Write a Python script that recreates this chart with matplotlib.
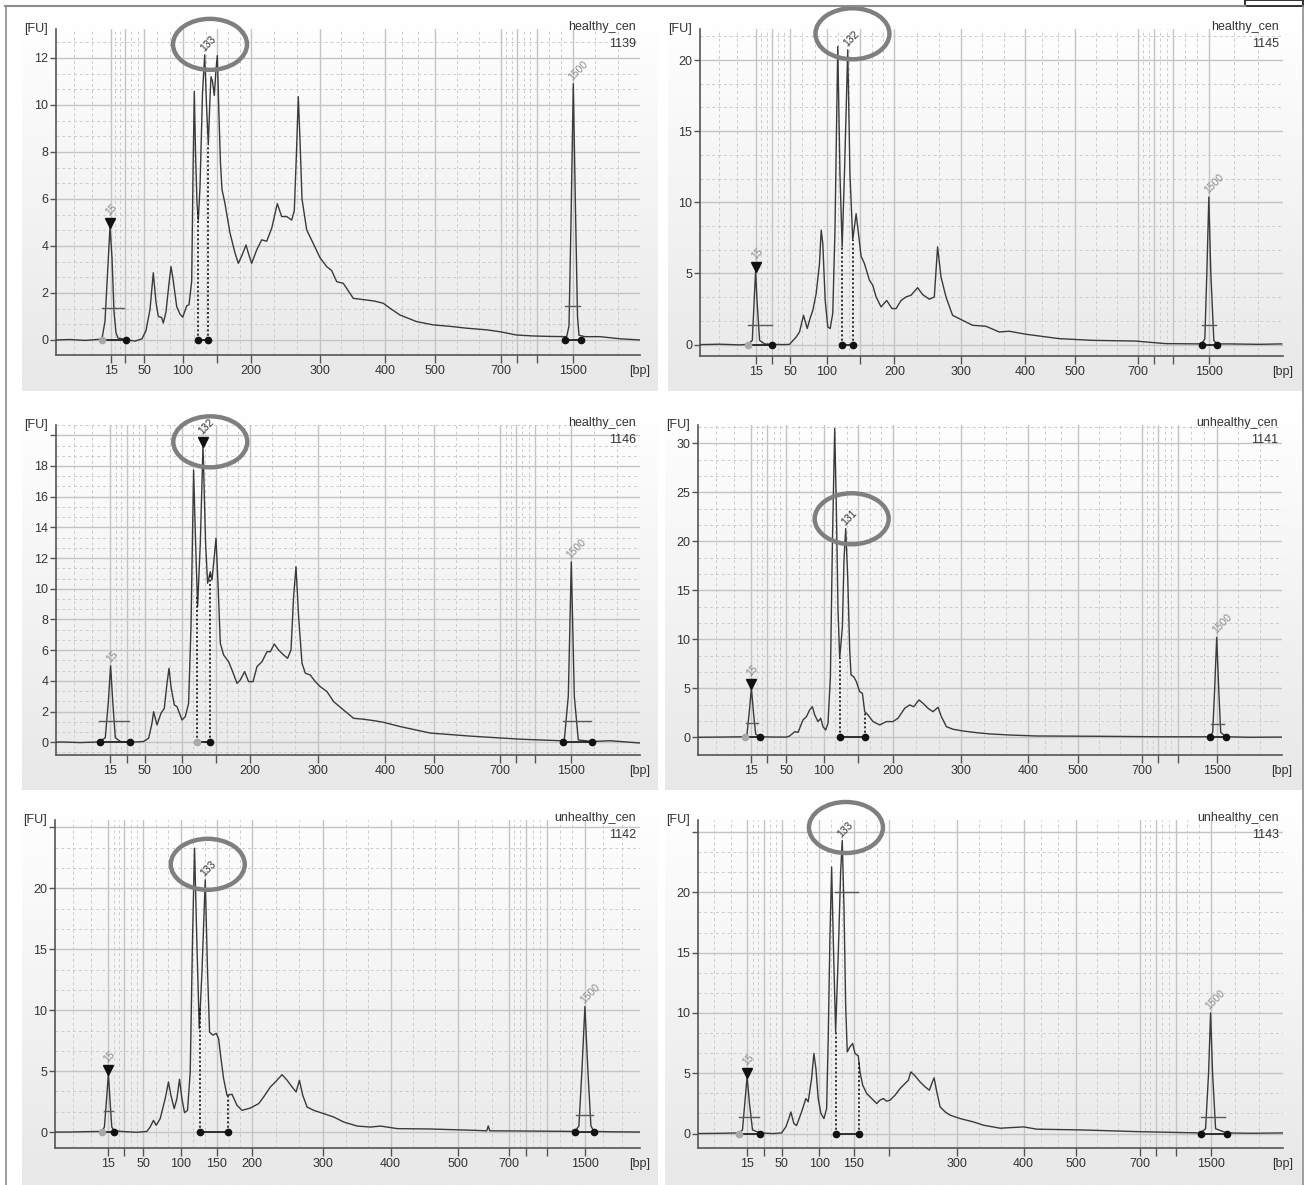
import matplotlib
matplotlib.use("Agg")
import matplotlib.pyplot as plt
import numpy as np
from matplotlib.colors import LinearSegmentedColormap
from matplotlib.lines import Line2D
from matplotlib.patches import Ellipse, Rectangle
from matplotlib.transforms import ScaledTranslation

W, H = 1309, 1185
TRACE_COLOR = "#3a3a3a"
TEXT_COLOR = "#333333"
LADDER_LABEL_COLOR = "#8c8c8c"
RING_COLOR = "#7f7f7f"

# ---------------------------------------------------------------- data
LADDER_BP = [15, 25, 50, 100, 150, 200, 300, 400, 500, 700, 850, 1000, 1500]
SAMPLE_NAMES = ["healthy_cen", "healthy_cen", "healthy_cen",
                "unhealthy_cen", "unhealthy_cen", "unhealthy_cen"]
SAMPLE_IDS = ["1139", "1145", "1146", "1141", "1142", "1143"]

# migration time [s] of each ladder fragment, per sample
LADDER_1139 = [45.47, 46.9, 48.8, 52.7, 56.1, 59.5, 66.35, 72.9, 77.9, 84.5, 86.1, 88.1, 91.7]
LADDER_1145 = [45.57, 47.24, 49.04, 52.7, 56.07, 59.47, 66.14, 72.57, 77.54, 83.87, 85.47, 87.37, 90.97]
LADDER_1146 = [45.43, 47.1, 48.86, 52.6, 56.0, 59.36, 66.2, 72.93, 77.83, 84.43, 86.0, 87.9, 91.53]
LADDER_1141 = [45.34, 46.94, 48.84, 52.57, 56.0, 59.5, 66.34, 73.0, 77.97, 84.37, 86.0, 88.0, 91.87]
LADDER_1142 = [45.33, 46.93, 48.83, 52.57, 56.17, 59.67, 66.77, 73.5, 80.2, 85.3, 87.0, 89.1, 92.9]
LADDER_1143 = [44.9, 46.57, 48.34, 52.1, 55.57, 59.07, 65.84, 72.5, 77.7, 84.1, 85.7, 87.7, 91.17]

# electropherogram traces: time [s] and fluorescence [FU]
TIME_1139 = [40.0, 41.4, 42.9, 44.4, 44.6, 44.9, 45.2, 45.4, 45.6, 45.8,
             46.0, 46.2, 46.9, 47.9, 48.6, 49.0, 49.4, 49.73, 50.0, 50.23,
             50.57, 50.73, 51.0, 51.3, 51.5, 51.7, 52.07, 52.4, 52.67, 53.07,
             53.3, 53.57, 53.7, 53.83, 53.95, 54.1, 54.23, 54.4, 54.65, 54.87,
             55.05, 55.23, 55.4, 55.5, 55.65, 55.83, 56.0, 56.13, 56.3, 56.45,
             56.6, 56.9, 57.4, 57.9, 58.23, 58.6, 59.0, 59.3, 59.57, 60.07,
             60.57, 61.07, 61.57, 62.13, 62.57, 63.07, 63.57, 63.83, 64.05, 64.23,
             64.4, 64.6, 65.07, 65.73, 66.4, 67.07, 67.57, 68.07, 68.73, 69.73,
             71.07, 71.9, 72.73, 73.4, 74.4, 76.07, 77.73, 79.4, 81.07, 83.07,
             84.4, 86.07, 87.73, 89.4, 91.07, 91.3, 91.5, 91.73, 91.95, 92.15,
             92.3, 92.9, 94.4, 96.4, 98.4]
FU_1139 = [0.0, 0.02, -0.02, 0.03, 0.05, 0.8, 3.2, 4.82, 3.5, 1.2,
           0.3, 0.08, 0.03, -0.05, 0.05, 0.4, 1.3, 2.86, 1.6, 1.0,
           0.95, 0.72, 1.2, 2.4, 3.12, 2.6, 1.42, 1.1, 0.97, 1.45,
           1.5, 2.5, 7.0, 10.57, 8.0, 5.8, 5.1, 6.5, 10.5, 12.13,
           10.0, 8.3, 10.3, 11.2, 11.0, 10.4, 11.5, 12.1, 9.5, 7.5,
           6.4, 5.8, 4.55, 3.7, 3.26, 3.6, 4.04, 3.6, 3.26, 3.83,
           4.26, 4.2, 4.75, 5.8, 5.25, 5.25, 5.1, 5.5, 8.0, 10.35,
           8.5, 6.0, 4.68, 4.1, 3.5, 3.12, 2.95, 2.48, 2.41, 1.77,
           1.7, 1.65, 1.56, 1.35, 1.06, 0.78, 0.64, 0.58, 0.5, 0.43,
           0.35, 0.21, 0.17, 0.15, 0.14, 0.6, 5.0, 10.9, 5.5, 1.0,
           0.2, 0.14, 0.14, 0.05, 0.0]

TIME_1145 = [40.0, 41.97, 43.97, 44.8, 45.24, 45.42, 45.57, 45.72, 45.97, 46.47,
             47.24, 48.47, 48.97, 49.64, 49.97, 50.37, 50.74, 51.07, 51.3, 51.64,
             51.97, 52.14, 52.3, 52.54, 52.8, 53.04, 53.3, 53.52, 53.8, 54.02,
             54.24, 54.47, 54.8, 55.02, 55.3, 55.64, 56.14, 56.47, 56.97, 57.3,
             57.64, 58.14, 58.7, 59.24, 59.64, 60.14, 60.64, 61.14, 61.8, 62.3,
             62.97, 63.47, 63.8, 64.14, 64.64, 65.3, 66.3, 67.3, 68.64, 69.97,
             70.97, 72.64, 75.97, 79.3, 83.64, 86.64, 90.24, 90.57, 90.77, 90.97,
             91.17, 91.47, 91.74, 92.97, 95.97, 98.27]
FU_1145 = [0.0, 0.03, -0.02, 0.02, 0.3, 3.0, 5.18, 3.0, 0.3, 0.05,
           0.02, 0.0, 0.02, 0.54, 0.89, 2.06, 1.13, 1.94, 2.4, 3.6,
           5.7, 8.05, 7.1, 3.1, 1.24, 1.13, 2.2, 8.0, 20.96, 12.0,
           6.87, 12.0, 20.72, 12.0, 7.35, 9.2, 6.2, 5.7, 4.53, 4.18,
           3.35, 2.65, 3.1, 2.53, 2.53, 3.1, 3.35, 3.47, 4.0, 3.52,
           3.19, 3.35, 6.87, 4.76, 3.35, 2.06, 1.71, 1.36, 1.29, 0.89,
           0.94, 0.73, 0.42, 0.3, 0.25, 0.07, 0.05, 0.4, 5.0, 10.37,
           5.0, 0.3, 0.05, 0.05, 0.02, 0.05]

TIME_1146 = [40.0, 40.43, 42.43, 44.36, 44.93, 45.23, 45.46, 45.68, 45.93, 46.43,
             47.36, 48.76, 49.26, 49.6, 49.76, 50.1, 50.5, 50.83, 51.1, 51.3,
             51.5, 51.83, 52.1, 52.6, 52.93, 53.26, 53.5, 53.76, 53.96, 54.16,
             54.43, 54.7, 54.96, 55.16, 55.43, 55.6, 55.86, 56.0, 56.2, 56.43,
             56.76, 57.26, 57.6, 58.1, 58.43, 58.86, 59.26, 59.7, 60.1, 60.6,
             61.1, 61.43, 61.83, 62.26, 62.76, 63.16, 63.5, 63.76, 64.0, 64.26,
             64.6, 64.93, 65.43, 65.93, 66.43, 67.1, 67.76, 68.76, 69.76, 70.76,
             71.76, 72.76, 74.43, 77.43, 81.43, 86.43, 90.43, 90.83, 91.23, 91.53,
             91.83, 92.23, 93.63, 95.43, 98.43]
FU_1146 = [0.0, 0.02, -0.02, 0.02, 0.3, 2.6, 4.99, 2.6, 0.3, 0.05,
           0.0, 0.05, 0.26, 1.24, 1.99, 1.13, 1.89, 2.21, 3.84, 4.82,
           3.62, 2.43, 2.32, 1.45, 1.67, 2.54, 7.53, 17.74, 12.96, 8.83,
           12.96, 19.3, 12.96, 10.36, 11.11, 10.57, 12.31, 13.29, 10.36, 6.45,
           5.69, 5.25, 4.71, 3.84, 4.06, 4.6, 3.95, 3.95, 4.93, 5.25,
           5.9, 5.9, 6.4, 6.01, 5.69, 5.47, 6.01, 9.49, 11.44, 8.18,
           5.15, 4.5, 4.38, 3.95, 3.62, 3.3, 2.65, 2.1, 1.56, 1.5,
           1.41, 1.3, 1.02, 0.6, 0.4, 0.2, 0.1, 0.15, 3.0, 11.75,
           3.0, 0.15, 0.05, 0.1, -0.05]

TIME_1141 = [40.0, 42.17, 44.67, 44.9, 45.12, 45.34, 45.55, 45.77, 46.24, 47.67,
             48.84, 49.17, 49.67, 50.0, 50.5, 50.84, 51.17, 51.44, 51.67, 52.0,
             52.27, 52.5, 52.77, 53.0, 53.24, 53.44, 53.67, 53.84, 54.0, 54.17,
             54.44, 54.6, 54.77, 54.97, 55.17, 55.3, 55.57, 55.84, 56.17, 56.44,
             56.67, 57.0, 57.5, 58.17, 58.84, 59.5, 60.0, 60.67, 61.17, 61.57,
             62.1, 62.5, 63.0, 63.5, 64.0, 64.34, 64.84, 65.5, 66.5, 67.84,
             69.17, 71.17, 73.84, 80.17, 86.17, 91.17, 91.47, 91.67, 91.87, 92.07,
             92.27, 92.77, 95.17, 98.37]
FU_1141 = [0.0, 0.02, 0.05, 0.3, 2.5, 5.0, 2.5, 0.3, 0.05, 0.02,
           0.02, 0.13, 0.57, 0.5, 1.77, 2.1, 2.79, 3.12, 2.28, 1.6,
           1.94, 1.08, 0.74, 1.43, 6.18, 19.8, 31.5, 23.2, 13.0, 8.06,
           11.29, 18.1, 21.3, 16.4, 8.9, 6.36, 6.18, 5.67, 4.65, 4.49,
           2.61, 2.28, 1.6, 1.26, 1.6, 1.6, 1.94, 2.96, 3.3, 3.12,
           3.81, 3.47, 2.96, 2.61, 3.06, 2.1, 1.08, 0.82, 0.64, 0.47,
           0.34, 0.23, 0.13, 0.1, 0.05, 0.05, 0.5, 5.0, 10.2, 5.0,
           0.5, 0.05, 0.0, 0.02]

TIME_1142 = [40.0, 41.33, 43.0, 44.67, 44.93, 45.13, 45.33, 45.5, 45.67, 45.93,
             46.83, 48.17, 49.17, 49.5, 49.83, 50.1, 50.5, 51.0, 51.33, 51.57,
             51.9, 52.17, 52.43, 52.67, 52.93, 53.23, 53.5, 53.73, 53.93, 54.17,
             54.4, 54.67, 55.0, 55.23, 55.43, 55.77, 56.1, 56.33, 56.57, 56.83,
             57.17, 57.67, 58.17, 58.67, 59.5, 60.33, 60.83, 61.5, 62.0, 62.67,
             63.17, 63.67, 64.07, 64.4, 64.73, 65.17, 65.83, 66.83, 67.83, 68.83,
             70.17, 71.5, 72.5, 74.17, 77.5, 81.5, 83.1, 83.25, 83.4, 87.5,
             91.9, 92.3, 92.6, 92.9, 93.2, 93.5, 93.8, 95.5, 98.5]
FU_1142 = [0.0, 0.0, 0.03, 0.05, 0.4, 2.5, 4.8, 2.5, 0.4, 0.1,
           0.04, -0.02, 0.05, 0.41, 0.96, 0.55, 1.1, 2.74, 4.11, 3.02,
           1.92, 2.74, 4.33, 2.74, 1.59, 1.78, 4.93, 15.9, 23.3, 15.3,
           8.5, 13.1, 20.7, 13.1, 8.2, 7.95, 8.1, 7.67, 6.03, 4.39,
           3.02, 3.1, 2.19, 1.78, 1.97, 2.33, 2.88, 3.7, 4.11, 4.71,
           4.25, 3.7, 3.29, 4.25, 3.02, 2.05, 1.78, 1.51, 1.23, 0.82,
           0.49, 0.41, 0.49, 0.28, 0.25, 0.15, 0.1, 0.5, 0.1, 0.08,
           0.05, 0.5, 5.0, 10.3, 5.0, 0.5, 0.05, 0.02, 0.0]

TIME_1143 = [40.0, 42.17, 44.1, 44.44, 44.67, 44.9, 45.14, 45.44, 46.17, 47.5,
             48.34, 48.77, 49.07, 49.27, 49.57, 49.84, 50.34, 50.77, 51.0, 51.34,
             51.57, 51.77, 52.0, 52.27, 52.57, 52.84, 53.0, 53.17, 53.34, 53.5,
             53.74, 54.0, 54.24, 54.4, 54.57, 54.74, 54.9, 55.17, 55.44, 55.67,
             56.0, 56.17, 56.44, 56.84, 57.34, 57.84, 58.17, 58.5, 58.84, 59.17,
             59.67, 60.17, 60.67, 61.0, 61.24, 61.67, 62.17, 62.67, 63.1, 63.34,
             63.57, 63.84, 64.17, 64.67, 65.17, 66.17, 67.5, 68.5, 70.17, 72.5,
             73.84, 78.17, 84.17, 90.17, 90.67, 90.97, 91.17, 91.37, 91.67, 92.77,
             95.17, 98.47]
FU_1143 = [0.0, 0.02, 0.05, 0.3, 2.5, 4.7, 2.5, 0.3, 0.05, 0.0,
           0.05, 0.55, 1.24, 1.79, 0.83, 0.66, 1.79, 2.9, 2.63, 4.56,
           6.64, 5.39, 2.9, 1.66, 1.24, 2.07, 7.88, 16.2, 22.1, 16.2,
           8.43, 14.8, 21.7, 24.3, 18.9, 10.65, 6.77, 7.19, 7.47, 6.64,
           6.44, 5.11, 4.01, 3.32, 2.9, 2.49, 2.77, 2.9, 2.68, 2.77,
           3.18, 3.73, 4.15, 4.42, 5.11, 4.78, 4.28, 3.87, 3.59, 4.15,
           4.62, 3.45, 2.21, 1.8, 1.52, 1.24, 0.96, 0.69, 0.44, 0.55,
           0.36, 0.3, 0.15, 0.05, 0.4, 5.0, 10.0, 5.0, 0.4, 0.05,
           0.02, 0.05]

# labelled peaks: (label, time, FU at apex)
PEAKS_1139 = [("15", 45.4, 4.82), ("133", 54.87, 12.13), ("1500", 91.73, 10.9)]
PEAKS_1145 = [("15", 45.57, 5.18), ("132", 54.8, 20.72), ("1500", 90.97, 10.37)]
PEAKS_1146 = [("15", 45.46, 4.99), ("132", 54.7, 19.3), ("1500", 91.53, 11.75)]
PEAKS_1141 = [("15", 45.34, 5.0), ("131", 54.77, 21.3), ("1500", 91.87, 10.2)]
PEAKS_1142 = [("15", 45.33, 4.8), ("133", 55.0, 20.7), ("1500", 92.9, 10.3)]
PEAKS_1143 = [("15", 44.9, 4.7), ("133", 54.4, 24.3), ("1500", 91.17, 10.0)]
SELECTED_PEAK = [0, 0, 1, 0, 0, 0]

# integration windows (start, end) of lower marker, upper marker and region
LOWER_WINDOW = [(44.63, 46.97), (44.8, 47.24), (44.36, 47.36), (44.67, 46.24), (44.67, 45.93), (44.1, 46.17)]
UPPER_WINDOW = [(90.93, 92.47), (90.24, 91.74), (90.73, 93.63), (91.17, 92.77), (91.9, 93.8), (90.17, 92.77)]
REGION_WINDOW = [(54.17, 55.23), (54.24, 55.3), (54.13, 55.36), (54.17, 56.67), (54.5, 57.23), (53.74, 56.07)]
# peak width bars (start, end, FU)
LOWER_BAR = [(44.57, 46.83, 1.35), (44.8, 47.2, 1.36), (44.26, 47.33, 1.39), (44.77, 46.0, 1.43), (44.93, 45.83, 1.7), (44.1, 46.07, 1.35)]
UPPER_BAR = [(90.9, 92.4, 1.45), (90.24, 91.7, 1.36), (90.73, 93.53, 1.4), (91.27, 92.57, 1.4), (92.0, 93.7, 1.4), (90.17, 92.57, 1.35)]
EXTRA_BAR = [None, None, None, None, None, (53.67, 55.94, 20.0)]

XLABELS = [
    [15, 50, 100, 200, 300, 400, 500, 700, 1500],
    [15, 50, 100, 200, 300, 400, 500, 700, 1500],
    [15, 50, 100, 200, 300, 400, 500, 700, 1500],
    [15, 50, 100, 200, 300, 400, 500, 700, 1500],
    [15, 50, 100, 150, 200, 300, 400, 500, 700, 1500],
    [15, 50, 100, 150, 300, 400, 500, 700, 1500],
]

TIMES = [TIME_1139, TIME_1145, TIME_1146, TIME_1141, TIME_1142, TIME_1143]
FUS = [FU_1139, FU_1145, FU_1146, FU_1141, FU_1142, FU_1143]
LADDERS = [LADDER_1139, LADDER_1145, LADDER_1146, LADDER_1141, LADDER_1142, LADDER_1143]
PEAKS = [PEAKS_1139, PEAKS_1145, PEAKS_1146, PEAKS_1141, PEAKS_1142, PEAKS_1143]

# ---------------------------------------------------------------- layout
AX_BOX = [(56, 29, 640, 355), (700, 29, 1283, 356), (56, 425, 640, 755),
          (698, 425, 1282, 755), (55, 820, 640, 1148), (698, 820, 1283, 1148)]
BG_BOX = [(22, 15, 658, 391), (668, 15, 1302, 391), (22, 405, 658, 790),
          (665, 405, 1302, 790), (22, 800, 658, 1185), (665, 800, 1302, 1185)]
XLIM = (40.0, 98.4)
YLIMS = [(-0.64, 13.23), (-0.8, 22.18), (-0.83, 20.67), (-1.81, 31.87), (-1.31, 25.61), (-1.2, 26.0)]
YSTEPS = [2, 5, 2, 5, 5, 5]
YLABEL_TOP = [12, 20, 18, 30, 20, 20]
RING_OFFSET = [(5.3, 10.5), (4.7, 16), (7.3, 4.2), (6, 9.8), (2.5, 15.5), (3.7, 13)]
RING_SIZE = (0.74, 0.51)
LOWER_START_GRAY = [True, True, False, True, True, True]
REGION_START_GRAY = [False, False, True, False, False, False]


def px_box(left, top, right, bottom):
    return [left / W, 1 - bottom / H, (right - left) / W, (bottom - top) / H]


def thirds(edges):
    out = []
    for a, b in zip(edges[:-1], edges[1:]):
        out += [a + (b - a) / 3, a + 2 * (b - a) / 3]
    return out


def draw_background(fig, box):
    bg = fig.add_axes(px_box(*box), zorder=0)
    cmap = LinearSegmentedColormap.from_list("panel", ["#ffffff", "#e8e8e8"])
    bg.imshow(np.linspace(0, 1, 200)[:, None], aspect="auto", cmap=cmap)
    bg.set_axis_off()


def style_axes(ax, k):
    ladder = LADDERS[k]
    ax.set_xticks(ladder)
    ax.set_xticklabels([str(bp) if bp in XLABELS[k] else "" for bp in LADDER_BP])
    ax.set_xticks(thirds([XLIM[0]] + ladder + [XLIM[1]]), minor=True)
    step = YSTEPS[k]
    major = list(np.arange(0, YLIMS[k][1], step))
    ax.set_yticks(major)
    ax.set_yticklabels([f"{v:g}" if v <= YLABEL_TOP[k] else "" for v in major])
    ax.set_yticks(thirds([-step] + major + [major[-1] + step]), minor=True)
    # limits last: set_ticks widens the view to include every tick
    ax.set_xlim(*XLIM)
    ax.set_ylim(*YLIMS[k])
    ax.grid(True, which="major", color="#c4c4c4", lw=1.0)
    ax.grid(True, which="minor", color="#cbcbcb", lw=0.7, ls=(0, (3, 3)))
    ax.set_axisbelow(True)
    ax.tick_params(axis="x", which="major", length=5.5, width=1.0, color="#555555",
                   pad=1.5, labelsize=9, labelcolor=TEXT_COLOR)
    ax.tick_params(axis="y", which="major", length=4, width=1.0, color="#555555",
                   pad=1.5, labelsize=9, labelcolor=TEXT_COLOR)
    ax.tick_params(which="minor", length=0)
    for side in ("top", "right"):
        ax.spines[side].set_visible(False)
    for side in ("left", "bottom"):
        ax.spines[side].set_color("#555555")
        ax.spines[side].set_linewidth(1.2)


def draw_window(ax, window, start_gray, y=0.0):
    t0, t1 = window
    ax.plot([t0, t1], [y, y], color="#222222", lw=1.3, zorder=4)
    ax.plot(t0, y, "o", ms=4.5, color="#a8a8a8" if start_gray else "#111111", zorder=5)
    ax.plot(t1, y, "o", ms=4.5, color="#111111", zorder=5)


def draw_panel(fig, k):
    draw_background(fig, BG_BOX[k])
    ax = fig.add_axes(px_box(*AX_BOX[k]), zorder=1)
    ax.set_facecolor("none")
    style_axes(ax, k)
    time, fu = TIMES[k], FUS[k]
    ax.plot(time, fu, color=TRACE_COLOR, lw=1.0, zorder=3)

    # marker / region windows
    draw_window(ax, LOWER_WINDOW[k], LOWER_START_GRAY[k])
    draw_window(ax, UPPER_WINDOW[k], False)
    draw_window(ax, REGION_WINDOW[k], REGION_START_GRAY[k])
    for t in REGION_WINDOW[k]:
        ax.plot([t, t], [0, np.interp(t, time, fu)], color="#111111", lw=1.2,
                ls=(0, (1.2, 1.4)), zorder=4)
    for bar in (LOWER_BAR[k], UPPER_BAR[k], EXTRA_BAR[k]):
        if bar is not None:
            ax.plot([bar[0], bar[1]], [bar[2], bar[2]], color="#5a5a5a", lw=1.0, zorder=4)

    # peak labels
    for i, (label, t, y) in enumerate(PEAKS[k]):
        selected = i == SELECTED_PEAK[k]
        ladder_peak = label in ("15", "1500")
        if selected:
            tri = ax.transData + ScaledTranslation(0, 0.04, fig.dpi_scale_trans)
            ax.plot(t, y, marker="v", ms=7, color="#111111", transform=tri, zorder=6,
                    clip_on=False)
        dy = 13 if selected else 5
        ax.annotate(label, (t, y), xytext=(-3, dy), textcoords="offset pixels",
                    rotation=45, rotation_mode="anchor", ha="left", va="center",
                    fontsize=7.5, color=LADDER_LABEL_COLOR if ladder_peak else TEXT_COLOR,
                    zorder=6, annotation_clip=False)
        if not ladder_peak:
            dx_ring, dy_ring = RING_OFFSET[k]
            ring = Ellipse((dx_ring / 100, dy_ring / 100), RING_SIZE[0], RING_SIZE[1],
                           transform=fig.dpi_scale_trans + ScaledTranslation(t, y, ax.transData),
                           fill=False, ec=RING_COLOR, lw=3.2, zorder=10, clip_on=False)
            ax.add_artist(ring)

    # axis captions and sample header
    ax.annotate("[FU]", (0, 1), xycoords="axes fraction", xytext=(-8, 0),
                textcoords="offset pixels", ha="right", va="center", fontsize=9,
                color=TEXT_COLOR)
    ax.annotate("[bp]", (1, 0), xycoords="axes fraction", xytext=(0, -16),
                textcoords="offset pixels", ha="center", va="center", fontsize=9,
                color=TEXT_COLOR)
    ax.annotate(SAMPLE_NAMES[k], (1, 1), xycoords="axes fraction", xytext=(-4, 2),
                textcoords="offset pixels", ha="right", va="center", fontsize=9,
                color=TEXT_COLOR)
    ax.annotate(SAMPLE_IDS[k], (1, 1), xycoords="axes fraction", xytext=(-4, -15),
                textcoords="offset pixels", ha="right", va="center", fontsize=9,
                color=TEXT_COLOR)
    return ax


def draw_frame(fig):
    def hline(x0, x1, y, **kw):
        fig.add_artist(Line2D([x0 / W, x1 / W], [1 - y / H, 1 - y / H], **kw))

    def vline(x, y0, y1, **kw):
        fig.add_artist(Line2D([x / W, x / W], [1 - y0 / H, 1 - y1 / H], **kw))

    hline(5, 1245, 5.5, color="#8c8c8c", lw=1.5)
    vline(6, 5.5, 1185, color="#8c8c8c", lw=1.2)
    vline(1302.5, 5.5, 1185, color="#8c8c8c", lw=1.2)
    fig.add_artist(Rectangle((1245 / W, 1 - 6 / H), 58 / W, 6 / H, fill=False,
                             ec="#111111", lw=1.2, transform=fig.transFigure))


def main():
    plt.rcParams["font.family"] = ["Liberation Sans", "DejaVu Sans"]
    fig = plt.figure(figsize=(W / 100, H / 100), dpi=100)
    fig.patch.set_facecolor("white")
    for k in range(6):
        draw_panel(fig, k)
    draw_frame(fig)
    fig.savefig("out.png", dpi=100)
    plt.close(fig)


if __name__ == "__main__":
    main()
